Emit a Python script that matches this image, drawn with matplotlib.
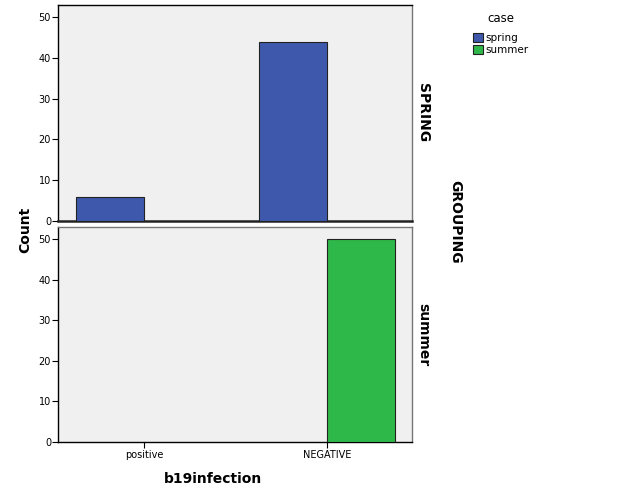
import matplotlib.pyplot as plt
import numpy as np

CATEGORIES = ['positive', 'NEGATIVE']
SERIES = ['spring', 'summer']
PANELS = ['SPRING', 'summer']
# counts per panel, per series, per category
COUNTS = {
    'SPRING': {'spring': [6, 44], 'summer': [0, 0]},
    'summer': {'spring': [0, 0], 'summer': [0, 50]},
}
COLORS = {'spring': '#3e58ac', 'summer': '#2fb84a'}
BG = '#f0f0f0'
BAR_W = 0.372

fig = plt.figure(figsize=(6.25, 5), dpi=100)
ax_top = fig.add_axes([0.0928, 0.558, 0.566, 0.432])
ax_bot = fig.add_axes([0.0928, 0.116, 0.566, 0.430])

x = np.arange(len(CATEGORIES))
for ax, panel in zip([ax_top, ax_bot], PANELS):
    ax.set_facecolor(BG)
    for i, s in enumerate(SERIES):
        vals = COUNTS[panel][s]
        # spring sits left of the tick, summer right of it
        lefts = x - BAR_W + i * BAR_W
        for xl, v in zip(lefts, vals):
            if v > 0:
                ax.bar(xl, v, width=BAR_W, align='edge', color=COLORS[s],
                       edgecolor='#222222', linewidth=0.8, zorder=3)
    ax.set_xlim(-0.47, 1.465)
    ax.set_ylim(0, 53)
    ax.set_yticks([0, 10, 20, 30, 40, 50])
    ax.tick_params(axis='y', labelsize=7, length=4, width=0.8, pad=1)
    for side in ['left', 'bottom']:
        ax.spines[side].set_color('black')
        ax.spines[side].set_linewidth(1.0)
    for side in ['top', 'right']:
        ax.spines[side].set_color('#777777')
        ax.spines[side].set_linewidth(1.0)
    ax.text(1.012, 0.5, panel, transform=ax.transAxes, rotation=-90,
            ha='left', va='center', fontsize=10, fontweight='bold')

ax_top.spines['top'].set_color('black')
ax_top.spines['bottom'].set_linewidth(1.8)
ax_top.spines['bottom'].set_color('#222222')
ax_top.set_xticks([])
ax_bot.set_xticks(x)
ax_bot.set_xticklabels(CATEGORIES)
ax_bot.tick_params(axis='x', labelsize=7, length=4, width=0.8, pad=2)

fig.text(0.04, 0.54, 'Count', rotation=90, ha='center', va='center',
         fontsize=10, fontweight='bold')
fig.text(0.341, 0.042, 'b19infection', ha='center', va='center',
         fontsize=10, fontweight='bold')
fig.text(0.728, 0.556, 'GROUPING', rotation=-90, ha='center', va='center',
         fontsize=10, fontweight='bold')

handles = [plt.Rectangle((0, 0), 1, 1, facecolor=COLORS[s], edgecolor='#222222', linewidth=0.8)
           for s in SERIES]
leg = fig.legend(handles, SERIES, title='case', loc='upper left',
                 bbox_to_anchor=(0.742, 0.995), frameon=False, fontsize=7.5,
                 title_fontsize=8.5, handlelength=0.9, handleheight=0.9,
                 handletextpad=0.3, labelspacing=0.2)
leg._legend_box.sep = 6

fig.savefig('out.png', dpi=100)
